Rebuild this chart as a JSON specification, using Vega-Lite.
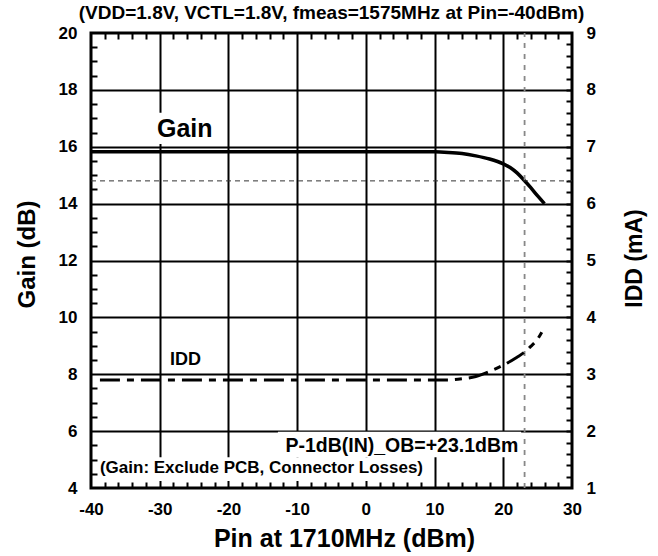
{
  "$schema": "https://vega.github.io/schema/vega-lite/v6.json",
  "width": 481,
  "height": 455,
  "autosize": {"type": "none"},
  "padding": {"left": 91, "top": 33, "right": 86, "bottom": 68},
  "config": {
    "view": {"stroke": "black", "strokeWidth": 3},
    "font": "Liberation Sans",
    "axis": {
      "labelFont": "Liberation Sans", "titleFont": "Liberation Sans",
      "labelFontWeight": "bold", "titleFontWeight": "bold",
      "labelColor": "black", "titleColor": "black",
      "labelFontSize": 17, "titleFontSize": 24,
      "domain": false, "ticks": false, "labelOverlap": false, "labelFlush": false
    }
  },
  "title": {
    "text": "(VDD=1.8V, VCTL=1.8V, fmeas=1575MHz at Pin=-40dBm)",
    "font": "Liberation Sans", "fontWeight": "bold", "fontSize": 19,
    "color": "black", "anchor": "middle", "frame": "group", "offset": 1
  },
  "datasets": {
    "gain": [
      {"pin": -40, "gain": 15.82}, {"pin": 10, "gain": 15.82}, {"pin": 12, "gain": 15.8},
      {"pin": 14, "gain": 15.76}, {"pin": 16, "gain": 15.68}, {"pin": 18, "gain": 15.57},
      {"pin": 20, "gain": 15.4}, {"pin": 21, "gain": 15.27}, {"pin": 22, "gain": 15.08},
      {"pin": 23, "gain": 14.83}, {"pin": 24, "gain": 14.56}, {"pin": 25, "gain": 14.27},
      {"pin": 26, "gain": 14.0}
    ],
    "idd": [
      {"pin": -38.7, "idd": 2.9}, {"pin": 10, "idd": 2.9}, {"pin": 12, "idd": 2.9},
      {"pin": 14, "idd": 2.92}, {"pin": 16, "idd": 2.96}, {"pin": 18, "idd": 3.05},
      {"pin": 20, "idd": 3.16}, {"pin": 22, "idd": 3.3}, {"pin": 23, "idd": 3.38},
      {"pin": 24, "idd": 3.49}, {"pin": 25, "idd": 3.62}, {"pin": 25.6, "idd": 3.74}
    ],
    "hline": [{"pin": -40, "pin2": 30, "gain": 14.8}],
    "vline": [{"pin": 23.1, "gain": 4, "gain2": 20}],
    "boxes": [
      {"pin": -31.5, "pin2": -21.5, "gain": 16.1, "gain2": 17.2},
      {"pin": -12.8, "pin2": 22.6, "gain": 5.08, "gain2": 5.98},
      {"pin": -38.9, "pin2": 8.8, "gain": 4.25, "gain2": 5.08}
    ],
    "labels": [
      {"pin": -30.4, "gain": 16.35, "label": "Gain"},
      {"pin": -28.5, "gain": 8.33, "label": "IDD"},
      {"pin": 22.2, "gain": 5.28, "label": "P-1dB(IN)_OB=+23.1dBm"},
      {"pin": -38.7, "gain": 4.52, "label": "(Gain: Exclude PCB, Connector Losses)"}
    ]
  },
  "layer": [
    {
      "encoding": {
        "x": {
          "field": "pin", "type": "quantitative",
          "scale": {"domain": [-40, 30], "nice": false, "zero": false},
          "axis": {
            "orient": "bottom",
            "values": [-40,-38,-36,-34,-32,-30,-28,-26,-24,-22,-20,-18,-16,-14,-12,-10,-8,-6,-4,-2,0,2,4,6,8,10,12,14,16,18,20,22,24,26,28,30],
            "labelExpr": "datum.value % 10 === 0 ? datum.value : ''",
            "labelPadding": 13,
            "grid": true, "gridColor": "black", "gridWidth": 2,
            "gridOpacity": {"condition": {"test": "datum.value > -40 && datum.value < 30", "value": 1}, "value": 0},
            "gridDash": {"condition": {"test": "datum.value % 10 === 0", "value": [1000, 0]}, "value": [6, 443, 6, 100]},
            "title": "Pin at 1710MHz (dBm)",
            "titleFontSize": 25,
            "titleX": 253, "titleY": 58, "titleBaseline": "alphabetic", "titleAlign": "center"
          }
        },
        "y": {
          "field": "gain", "type": "quantitative",
          "scale": {"domain": [4, 20], "nice": false, "zero": false},
          "axis": {
            "orient": "left",
            "values": [4,4.5,5,5.5,6,6.5,7,7.5,8,8.5,9,9.5,10,10.5,11,11.5,12,12.5,13,13.5,14,14.5,15,15.5,16,16.5,17,17.5,18,18.5,19,19.5,20],
            "labelExpr": "datum.value % 2 === 0 ? datum.value : ''",
            "labelPadding": 14,
            "grid": true, "gridColor": "black", "gridWidth": 2,
            "gridOpacity": {"condition": {"test": "datum.value > 4 && datum.value < 20", "value": 1}, "value": 0},
            "gridDash": {"condition": {"test": "datum.value % 2 === 0", "value": [1000, 0]}, "value": [6, 1000]},
            "title": "Gain (dB)",
            "titleFontSize": 24,
            "titleAngle": 270, "titleX": -64, "titleY": 221, "titleBaseline": "middle", "titleAlign": "center"
          }
        }
      },
      "layer": [
        {
          "data": {"name": "gain"},
          "mark": {"type": "line", "color": "black", "strokeWidth": 3.5, "interpolate": "monotone"}
        },
        {
          "data": {"name": "boxes"},
          "mark": {"type": "rect", "color": "white"},
          "encoding": {
            "x2": {"field": "pin2"},
            "y2": {"field": "gain2"}
          }
        },
        {
          "data": {"name": "hline"},
          "mark": {"type": "rule", "color": "#333333", "strokeWidth": 1, "strokeDash": [5, 4]},
          "encoding": {
            "x2": {"field": "pin2"}
          }
        },
        {
          "data": {"name": "vline"},
          "mark": {"type": "rule", "color": "#888888", "strokeWidth": 1.8, "strokeDash": [5, 6]},
          "encoding": {
            "y2": {"field": "gain2"}
          }
        },
        {
          "data": {"name": "labels"},
          "transform": [{"filter": "datum.label === 'Gain'"}],
          "mark": {"type": "text", "align": "left", "baseline": "alphabetic", "fontSize": 25, "fontWeight": "bold", "font": "Liberation Sans", "color": "black"},
          "encoding": {"text": {"field": "label"}}
        },
        {
          "data": {"name": "labels"},
          "transform": [{"filter": "datum.label === 'IDD'"}],
          "mark": {"type": "text", "align": "left", "baseline": "alphabetic", "fontSize": 18, "fontWeight": "bold", "font": "Liberation Sans", "color": "black"},
          "encoding": {"text": {"field": "label"}}
        },
        {
          "data": {"name": "labels"},
          "transform": [{"filter": "indexof(datum.label, 'P-1dB') === 0"}],
          "mark": {"type": "text", "align": "right", "baseline": "alphabetic", "fontSize": 19.5, "fontWeight": "bold", "font": "Liberation Sans", "color": "black"},
          "encoding": {"text": {"field": "label"}}
        },
        {
          "data": {"name": "labels"},
          "transform": [{"filter": "indexof(datum.label, '(Gain') === 0"}],
          "mark": {"type": "text", "align": "left", "baseline": "alphabetic", "fontSize": 17, "fontWeight": "bold", "font": "Liberation Sans", "color": "black"},
          "encoding": {"text": {"field": "label"}}
        }
      ]
    },
    {
      "data": {"name": "idd"},
      "mark": {"type": "line", "color": "black", "strokeWidth": 3, "strokeDash": [20, 7, 7, 7], "interpolate": "monotone"},
      "encoding": {
        "x": {
          "field": "pin", "type": "quantitative",
          "scale": {"domain": [-40, 30], "nice": false, "zero": false},
          "axis": null
        },
        "y": {
          "field": "idd", "type": "quantitative",
          "scale": {"domain": [1, 9], "nice": false, "zero": false},
          "axis": {
            "orient": "right",
            "values": [1,1.2,1.4,1.6,1.8,2,2.2,2.4,2.6,2.8,3,3.2,3.4,3.6,3.8,4,4.2,4.4,4.6,4.8,5,5.2,5.4,5.6,5.8,6,6.2,6.4,6.6,6.8,7,7.2,7.4,7.6,7.8,8,8.2,8.4,8.6,8.8,9],
            "labelExpr": "datum.value % 1 === 0 ? datum.value : ''",
            "labelPadding": 14,
            "grid": true, "gridColor": "black", "gridWidth": 2, "gridDash": [6, 1000],
            "gridOpacity": {"condition": {"test": "datum.value > 1 && datum.value < 9", "value": 1}, "value": 0},
            "title": "IDD (mA)",
            "titleFontSize": 23,
            "titleAngle": 270, "titleX": 62, "titleY": 225, "titleBaseline": "middle", "titleAlign": "center"
          }
        }
      }
    }
  ],
  "resolve": {"scale": {"y": "independent"}, "axis": {"x": "independent", "y": "independent"}}
}
